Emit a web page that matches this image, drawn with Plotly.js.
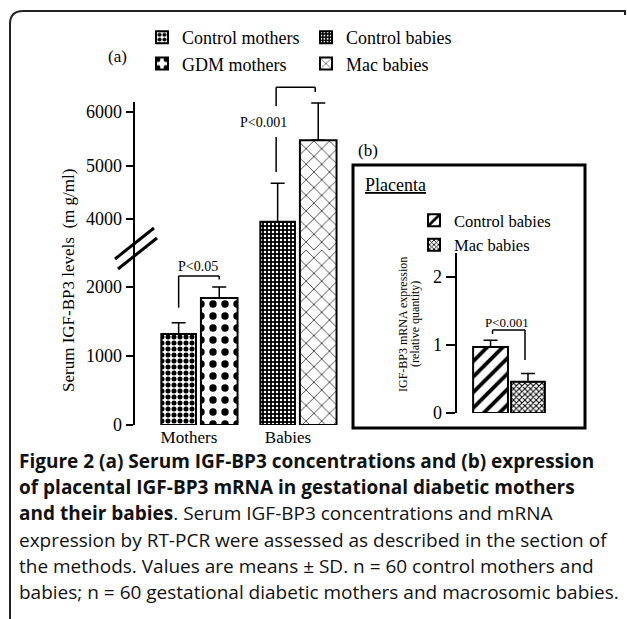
<!DOCTYPE html>
<html>
<head>
<meta charset="utf-8">
<script src="https://cdn.plot.ly/plotly-3.0.1.min.js"></script>
<style>html,body{margin:0;padding:0;background:#fff;}#chart{width:627px;height:619px;}</style>
</head>
<body>
<div id="chart"></div>
<script>
// ---------------- data ----------------
const motherGroup = ['Mothers'];
const babyGroup = ['Babies'];
const serumGroups = ['Mothers', 'Babies'];
const controlMothersMean = [1320];
const controlMothersSD = [160];
const gdmMothersMean = [1840];
const gdmMothersSD = [160];
const controlBabiesMean = [3950];
const controlBabiesSD = [720];
const macBabiesMean = [5470];
const macBabiesSD = [700];
const placentaGroup = ['Placenta'];
const placentaControlMean = [0.97];
const placentaControlSD = [0.10];
const placentaMacMean = [0.46];
const placentaMacSD = [0.12];
const lowerTicks = [0, 1000, 2000];
const upperTicks = [4000, 5000, 6000];
const placentaTicks = [0, 1, 2];
const seriesNames = ['Control mothers', 'GDM mothers', 'Control babies', 'Mac babies'];
const placentaNames = ['Control babies', 'Mac babies'];
const pLabels = ['P<0.05', 'P<0.001', 'P<0.001'];

// ---------------- layout geometry (pixels) ----------------
const W = 627, H = 619;
const px = v => v / W;
const py = v => 1 - v / H;
const AX = {left: 135, right: 350, r0: -0.646, r1: 1.526};
const AYL = {bottom: 425, top: 250, r0: 0, r1: 2536};
const AYU = {bottom: 250, top: 102, r0: 3421, r1: 6187};
const BX = {left: 457, right: 561, r0: -1, r1: 1};
const BY = {bottom: 413, top: 253, r0: 0, r1: 2.35};
const xPix = (ax, v) => ax.left + (v - ax.r0) / (ax.r1 - ax.r0) * (ax.right - ax.left);
const yPix = (ax, v) => ax.bottom - (v - ax.r0) / (ax.r1 - ax.r0) * (ax.bottom - ax.top);

const LEFT_OFF = -0.38, LEFT_W = 0.35, RIGHT_OFF = 0.02, RIGHT_W = 0.37;
const B_LEFT_OFF = -0.69, B_LEFT_W = 0.67, B_RIGHT_OFF = 0.04, B_RIGHT_W = 0.65;

const serif = 'Liberation Serif, "Times New Roman", serif';
const lineStyle = {color: 'black', width: 2};

function errs(sd) {
  return {type: 'data', symmetric: false, array: sd, arrayminus: sd.map(() => 0),
          color: 'black', thickness: 1.5, width: 7};
}
function barTrace(o) {
  return {
    type: 'bar', name: o.name, x: o.x, y: o.y,
    xaxis: o.xa, yaxis: o.ya, offset: o.offset, width: o.width,
    marker: {color: 'white', line: lineStyle, pattern: o.pattern},
    error_y: o.sd ? errs(o.sd) : {visible: false},
    showlegend: !!o.legend, legend: o.legend || 'legend',
    hoverinfo: 'skip'
  };
}
const patCM = {shape: '.', fgcolor: 'black', bgcolor: 'white', size: 6, solidity: 0.55, fillmode: 'replace'};
const patGDM = {shape: '.', fgcolor: 'black', bgcolor: 'white', size: 12, solidity: 0.3, fillmode: 'replace'};
const patCB = {shape: '.', fgcolor: 'white', bgcolor: 'black', size: 4, solidity: 0.3, fillmode: 'replace'};
const patMB = {shape: 'x', fgcolor: 'black', bgcolor: 'white', size: 11, solidity: 0.12, fillmode: 'replace'};
const patPC = {shape: '/', fgcolor: 'black', bgcolor: 'white', size: 11, solidity: 0.35, fillmode: 'replace'};
const patPM = {shape: 'x', fgcolor: 'black', bgcolor: 'white', size: 4, solidity: 0.45, fillmode: 'replace'};

const traces = [
  barTrace({name: seriesNames[0], x: motherGroup, y: controlMothersMean, sd: controlMothersSD, xa: 'x', ya: 'y', offset: LEFT_OFF, width: LEFT_W, pattern: patCM, legend: 'legend'}),
  barTrace({name: seriesNames[1], x: motherGroup, y: gdmMothersMean, sd: gdmMothersSD, xa: 'x', ya: 'y', offset: RIGHT_OFF, width: RIGHT_W, pattern: patGDM, legend: 'legend'}),
  barTrace({name: seriesNames[2], x: babyGroup, y: controlBabiesMean, xa: 'x', ya: 'y', offset: LEFT_OFF, width: LEFT_W, pattern: patCB, legend: 'legend3'}),
  barTrace({name: seriesNames[3], x: babyGroup, y: macBabiesMean, xa: 'x', ya: 'y', offset: RIGHT_OFF, width: RIGHT_W, pattern: patMB, legend: 'legend3'}),
  barTrace({name: seriesNames[2], x: babyGroup, y: controlBabiesMean, sd: controlBabiesSD, xa: 'x', ya: 'y2', offset: LEFT_OFF, width: LEFT_W, pattern: patCB}),
  barTrace({name: seriesNames[3], x: babyGroup, y: macBabiesMean, sd: macBabiesSD, xa: 'x', ya: 'y2', offset: RIGHT_OFF, width: RIGHT_W, pattern: patMB}),
  barTrace({name: placentaNames[0], x: placentaGroup, y: placentaControlMean, sd: placentaControlSD, xa: 'x3', ya: 'y3', offset: B_LEFT_OFF, width: B_LEFT_W, pattern: patPC, legend: 'legend2'}),
  barTrace({name: placentaNames[1], x: placentaGroup, y: placentaMacMean, sd: placentaMacSD, xa: 'x3', ya: 'y3', offset: B_RIGHT_OFF, width: B_RIGHT_W, pattern: patPM, legend: 'legend2'})
];

// bar centre helpers (category index + offset + half width)
const catIdx = g => serumGroups.indexOf(g);
const cx = (g, off, w) => px(xPix(AX, catIdx(g) + off + w / 2));
const cxB = (off, w) => px(xPix(BX, 0 + off + w / 2));

const shapes = [];
function seg(x0, y0, x1, y1, width) {
  shapes.push({type: 'line', xref: 'paper', yref: 'paper', x0: x0, y0: y0, x1: x1, y1: y1,
               line: {color: 'black', width: width || 1.5}});
}
// P<0.05 bracket (lower axis units)
{
  const xl = cx('Mothers', LEFT_OFF, LEFT_W), xr = cx('Mothers', RIGHT_OFF, RIGHT_W);
  const top = py(yPix(AYL, 2160));
  seg(xl, py(yPix(AYL, 1700)), xl, top);
  seg(xl, top, xr, top);
  seg(xr, top, xr, py(yPix(AYL, 2110)));
}
// P<0.001 bracket, babies (upper axis units)
{
  const xl = cx('Babies', LEFT_OFF, LEFT_W) - px(1.5), xr = cx('Babies', RIGHT_OFF, RIGHT_W) - px(3);
  const top = py(yPix(AYU, 6465));
  seg(xl, py(yPix(AYU, 4878)), xl, py(yPix(AYU, 5531)));
  seg(xl, py(yPix(AYU, 6110)), xl, top);
  seg(xl, top, xr, top);
  seg(xr, top, xr, py(yPix(AYU, 6372)));
}
// P<0.001 bracket, placenta
{
  const xl = cxB(B_LEFT_OFF, B_LEFT_W) + px(2), xr = cxB(B_RIGHT_OFF, B_RIGHT_W) - px(3);
  const top = py(yPix(BY, 1.22));
  seg(xl, py(yPix(BY, 1.16)), xl, top);
  seg(xl, top, xr, top);
  seg(xr, top, xr, py(yPix(BY, 0.78)));
}
// axis break marks
seg(px(115), py(259), px(154), py(228), 3);
seg(px(118), py(269), px(157), py(238), 3);
// panel (b) frame
shapes.push({type: 'rect', xref: 'paper', yref: 'paper', x0: px(353), x1: px(585), y0: py(428), y1: py(165),
             line: {color: 'black', width: 3}, fillcolor: 'rgba(0,0,0,0)'});
// outer figure frame (rounded top-left corner)
shapes.push({type: 'path', xref: 'paper', yref: 'paper',
  path: `M ${px(10)},${py(619)} L ${px(10)},${py(24)} Q ${px(10)},${py(11)} ${px(23)},${py(11)} L ${px(625)},${py(11)} L ${px(625)},${py(15)}`,
  line: {color: '#222', width: 2}});

const annotations = [];
function txt(t, x, y, size, opts) {
  annotations.push(Object.assign({text: t, xref: 'paper', yref: 'paper', x: px(x), y: py(y),
    showarrow: false, font: {family: serif, size: size, color: 'black'}, xanchor: 'center', yanchor: 'middle'}, opts || {}));
}
txt(pLabels[0], 198, 267, 14);
txt(pLabels[1], 263, 123, 14);
txt(pLabels[2], 507, 322, 13);
txt('(a)', 117, 57, 17);
txt('(b)', 368, 150, 17);
txt('<u>Placenta</u>', 395, 185, 18);
txt('Serum IGF-BP3 levels  (m g/ml)', 68, 281, 17, {textangle: -90});
txt('IGF-BP3 mRNA expression', 403, 324, 12, {textangle: -90});
txt('(relative quantity)', 415, 324, 12, {textangle: -90});

const captionLines = [
  '<b>Figure 2 (a) Serum IGF-BP3 concentrations and (b) expression</b>',
  '<b>of placental IGF-BP3 mRNA in gestational diabetic mothers</b>',
  '<b>and their babies</b>. Serum IGF-BP3 concentrations and mRNA',
  'expression by RT-PCR were assessed as described in the section of',
  'the methods. Values are means ± SD. n = 60 control mothers and',
  'babies; n = 60 gestational diabetic mothers and macrosomic babies.'
];
const captionY = [461, 487, 513, 540, 566, 592];
captionLines.forEach((t, i) => {
  annotations.push({text: t, xref: 'paper', yref: 'paper', x: px(17), y: py(captionY[i]),
    xanchor: 'left', yanchor: 'middle', showarrow: false,
    font: {family: '"Open Sans", "Noto Sans", sans-serif', size: 19, color: '#111'}});
});

const yCommon = {ticks: 'outside', ticklen: 7, tickwidth: 2, tickcolor: 'black', showline: true,
  linewidth: 2.5, linecolor: 'black', showgrid: false, zeroline: false, tickmode: 'array',
  tickfont: {family: serif, size: 18, color: 'black'}, fixedrange: true};

const layout = {
  width: W, height: H, margin: {l: 0, r: 0, t: 0, b: 0},
  paper_bgcolor: 'white', plot_bgcolor: 'rgba(0,0,0,0)', barmode: 'overlay',
  font: {family: serif, color: 'black', size: 16},
  xaxis: {domain: [px(AX.left), px(AX.right)], range: [AX.r0, AX.r1], type: 'category',
    categoryorder: 'array', categoryarray: serumGroups, anchor: 'y', showline: false, ticks: '',
    showgrid: false, zeroline: false, tickfont: {family: serif, size: 17, color: 'black'},
    ticklabelshift: -10, fixedrange: true},
  yaxis: Object.assign({}, yCommon, {domain: [py(AYL.bottom), py(AYL.top)], range: [AYL.r0, AYL.r1],
    tickvals: lowerTicks, anchor: 'x'}),
  yaxis2: Object.assign({}, yCommon, {domain: [py(AYU.bottom), py(AYU.top)], range: [AYU.r0, AYU.r1],
    tickvals: upperTicks, anchor: 'x'}),
  xaxis3: {domain: [px(BX.left), px(BX.right)], range: [BX.r0, BX.r1], type: 'category', anchor: 'y3',
    showline: false, showticklabels: false, ticks: '', showgrid: false, zeroline: false, fixedrange: true},
  yaxis3: Object.assign({}, yCommon, {domain: [py(BY.bottom), py(BY.top)], range: [BY.r0, BY.r1],
    tickvals: placentaTicks, anchor: 'x3', ticklen: 9}),
  legend: {x: px(142), y: py(19), xanchor: 'left', yanchor: 'top', bgcolor: 'rgba(0,0,0,0)',
    font: {family: serif, size: 18, color: 'black'}, tracegroupgap: 0, traceorder: 'normal'},
  legend3: {x: px(306), y: py(19), xanchor: 'left', yanchor: 'top', bgcolor: 'rgba(0,0,0,0)',
    font: {family: serif, size: 18, color: 'black'}, tracegroupgap: 0, traceorder: 'normal'},
  legend2: {x: px(414), y: py(203), xanchor: 'left', yanchor: 'top', bgcolor: 'rgba(0,0,0,0)',
    font: {family: serif, size: 16.5, color: 'black'}, tracegroupgap: 0, traceorder: 'normal'},
  shapes: shapes,
  annotations: annotations
};

Plotly.newPlot('chart', traces, layout, {displayModeBar: false, staticPlot: true});
</script>
</body>
</html>
